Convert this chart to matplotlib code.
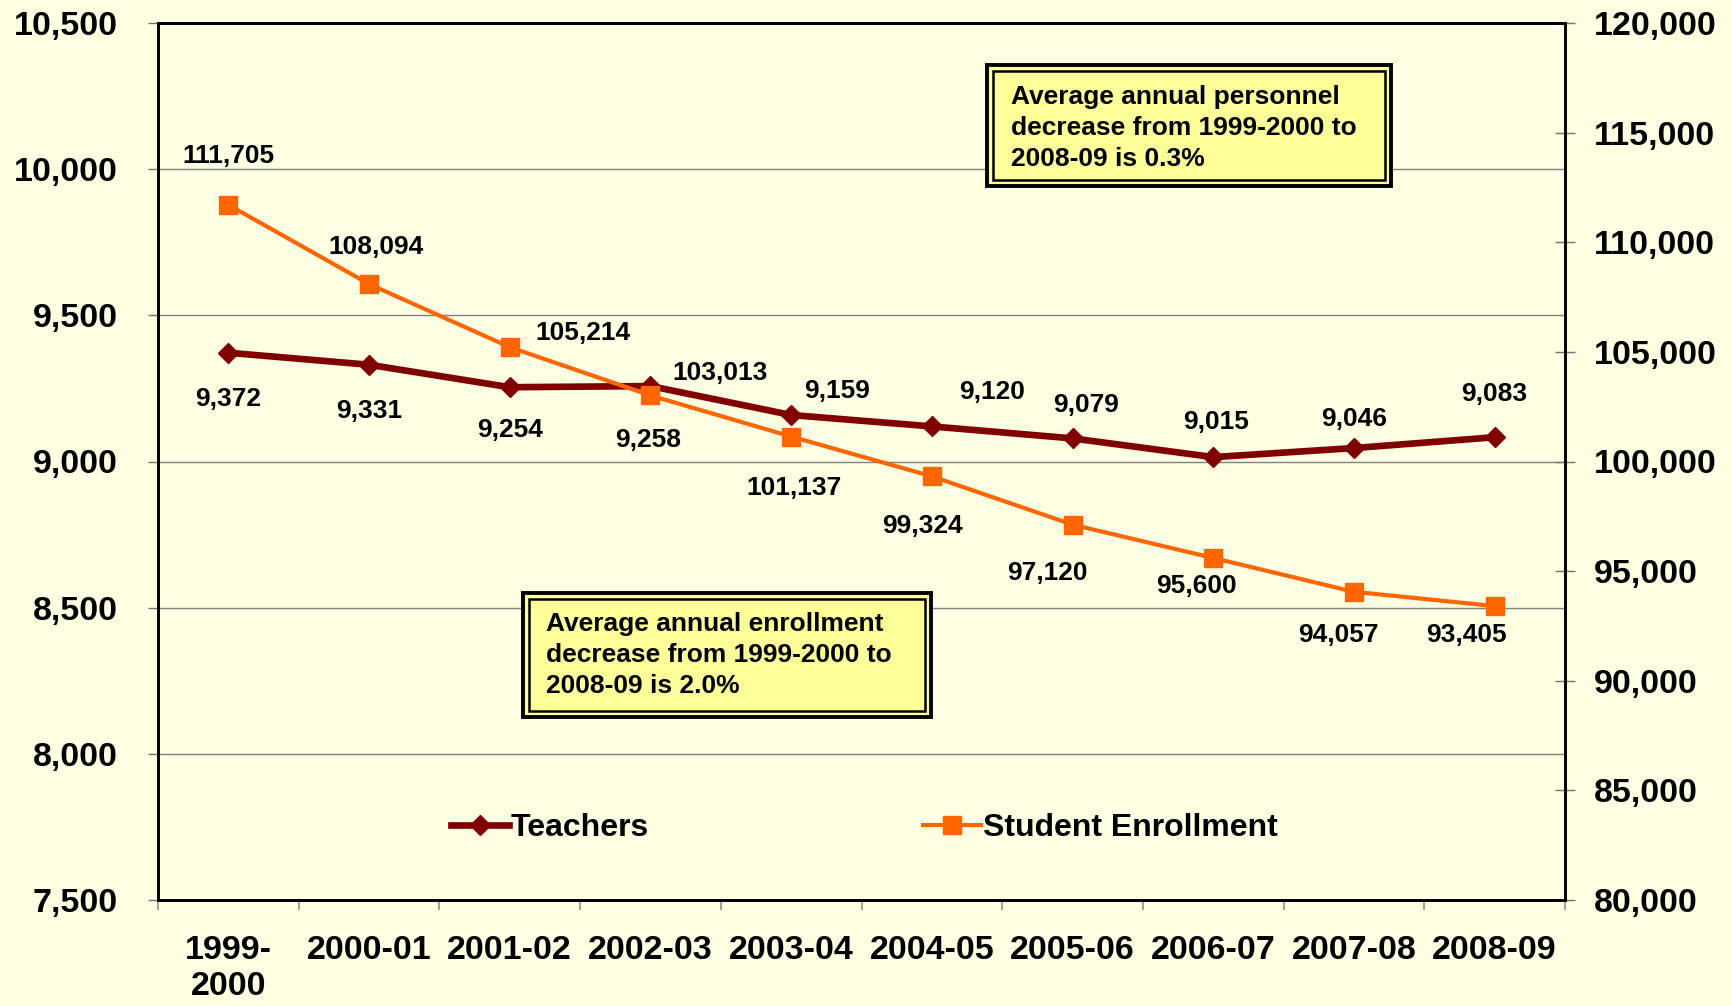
import matplotlib
matplotlib.use("Agg")
import matplotlib.pyplot as plt
from matplotlib.patches import Rectangle
from matplotlib.ticker import FuncFormatter

plt.rcParams['font.family'] = ['Liberation Sans', 'DejaVu Sans']
plt.rcParams['font.weight'] = 'bold'

categories = ["1999-\n2000", "2000-01", "2001-02", "2002-03", "2003-04",
              "2004-05", "2005-06", "2006-07", "2007-08", "2008-09"]
teachers = [9372, 9331, 9254, 9258, 9159, 9120, 9079, 9015, 9046, 9083]
enrollment = [111705, 108094, 105214, 103013, 101137, 99324, 97120, 95600, 94057, 93405]

# label offsets in points (style only)
t_off = [(0, -33), (0, -33), (0, -31), (-2, -39), (33, 17), (43, 25), (10, 24), (2, 25), (0, 21), (0, 31)]
e_off = [(0, 35), (5, 27), (53, 10), (50, 16), (2, -37), (-7, -36), (-18, -35), (-12, -20), (-11, -31), (-20, -21)]

bg = '#FFFFE3'
box_fill = '#FFFF99'
c_teach = '#800000'
c_enr = '#FF6600'

W, H = 1733, 1006
fig = plt.figure(figsize=(W / 100, H / 100), dpi=100, facecolor=bg)
L, R, T, B = 158, 1565, 23, 900
ax = fig.add_axes([L / W, 1 - B / H, (R - L) / W, (B - T) / H])
ax.set_facecolor(bg)
ax2 = ax.twinx()

x = list(range(len(categories)))

ax.plot(x, teachers, color=c_teach, lw=4.8, marker='D', ms=10, zorder=3, label='Teachers')
ax2.plot(x, enrollment, color=c_enr, lw=3.0, marker='s', ms=13.5, zorder=3, label='Student Enrollment')

ax.set_xlim(-0.5, len(categories) - 0.5)
ax.set_ylim(7500, 10500)
ax2.set_ylim(80000, 120000)

fmt = FuncFormatter(lambda v, p: f"{int(v):,}")
ax.set_yticks(range(7500, 10501, 500))
ax.yaxis.set_major_formatter(fmt)
ax2.set_yticks(range(80000, 120001, 5000))
ax2.yaxis.set_major_formatter(fmt)

ax.set_xticks([i - 0.5 for i in range(len(categories) + 1)])
ax.set_xticklabels([])
ax.set_xticks(x, minor=True)
ax.set_xticklabels(categories, minor=True, fontsize=24.5, fontweight='bold', linespacing=1.2)
ax.tick_params(axis='x', which='minor', length=0, pad=25)
ax.tick_params(axis='x', which='major', length=7, width=1.2, color='#909090', direction='out')
ax.tick_params(axis='y', length=7, width=1, color='#707070', direction='out', pad=22, labelsize=24.5)
ax2.tick_params(axis='y', length=14, width=1, color='#707070', direction='inout', pad=14, labelsize=24.5)

ax.yaxis.grid(True, color='#808080', lw=1)
ax.set_axisbelow(True)

for a in (ax, ax2):
    for s in a.spines.values():
        s.set_color('black')
        s.set_linewidth(2)

for i, v in enumerate(teachers):
    ax.annotate(f"{v:,}", (x[i], v), xytext=t_off[i], textcoords='offset points',
                ha='center', va='center', fontsize=19, fontweight='bold', zorder=5)
for i, v in enumerate(enrollment):
    ax2.annotate(f"{v:,}", (x[i], v), xytext=e_off[i], textcoords='offset points',
                 ha='center', va='center', fontsize=19, fontweight='bold', zorder=5)


def dbl_box(a, px0, py0, px1, py1, tx, ty, text):
    fx0 = (px0 - L) / (R - L)
    fx1 = (px1 - L) / (R - L)
    fy0 = (B - py1) / (B - T)
    fy1 = (B - py0) / (B - T)
    a.add_patch(Rectangle((fx0, fy0), fx1 - fx0, fy1 - fy0, transform=a.transAxes,
                          facecolor=box_fill, edgecolor='black', lw=2.8, zorder=6, clip_on=False))
    ix = 6 / (R - L)
    iy = 6 / (B - T)
    a.add_patch(Rectangle((fx0 + ix, fy0 + iy), fx1 - fx0 - 2 * ix, fy1 - fy0 - 2 * iy,
                          transform=a.transAxes, facecolor='none', edgecolor='black',
                          lw=1.8, zorder=7, clip_on=False))
    a.text((tx - L) / (R - L), (B - ty) / (B - T), text, transform=a.transAxes,
           ha='left', va='center', fontsize=19, fontweight='bold', linespacing=1.39, zorder=8)


dbl_box(ax2, 987, 65, 1391, 186, 1011, 128,
        "Average annual personnel\ndecrease from 1999-2000 to\n2008-09 is 0.3%")
dbl_box(ax2, 523, 593, 931, 717, 546, 655,
        "Average annual enrollment\ndecrease from 1999-2000 to\n2008-09 is 2.0%")

h1, l1 = ax.get_legend_handles_labels()
h2, l2 = ax2.get_legend_handles_labels()
leg = ax2.legend(h1 + h2, l1 + l2, ncol=2, loc='center', bbox_to_anchor=(0.502, 0.082),
                 frameon=False, handlelength=1.8, handletextpad=0.05, columnspacing=8.6,
                 prop={'size': 23, 'weight': 'bold'})

fig.savefig('out.png', dpi=100, facecolor=bg)
